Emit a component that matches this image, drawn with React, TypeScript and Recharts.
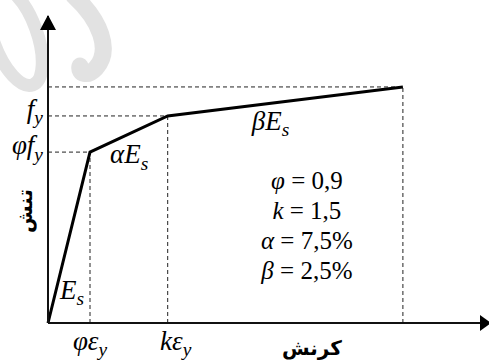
import React from "react";
import { LineChart, Line, XAxis, YAxis, ReferenceLine, ReferenceDot } from "recharts";

// stress–strain polyline, read off the (schematic, not-to-scale) drawing
const strain = [0, 1.0, 2.85, 8.45];
const stress = [0, 5.01, 6.07, 6.92];

// tick labels (main part + subscript)
const strainTicks = ["φε", "kε"];
const stressTicks = ["φf", "f"];
const tickSub = "y";

// slope labels of the three branches
const slopeLabels = ["E", "αE", "βE"];
const slopeSub = "s";

// parameter block
const paramNames = ["φ", "k", "α", "β"];
const paramValues = ["0,9", "1,5", "7,5%", "2,5%"];

const X_MAX = 10.5;
const Y_MAX = 9;

const MATH = "'Liberation Serif', 'DejaVu Serif', serif";
const FA = "'DejaVu Sans', sans-serif";

const data = strain.map((s, i) => ({ strain: s, stress: stress[i] }));

function SubText({ x, y, main, sub, size = 27, anchor = "start" }: any) {
  return (
    <text x={x} y={y} textAnchor={anchor} fontFamily={MATH} fontStyle="italic" fontSize={size} fill="#000">
      {main}
      <tspan dy={size * 0.24} fontSize={size * 0.72}>
        {sub}
      </tspan>
    </text>
  );
}

function StrainTick({ x, y, payload }: any) {
  const i = strain.indexOf(payload.value) - 1;
  const dx = [0, 8][i] ?? 0;
  return <SubText x={x + dx} y={y + 27} main={strainTicks[i]} sub={tickSub} anchor="middle" />;
}

function StressTick({ x, y, payload }: any) {
  const i = stress.indexOf(payload.value) - 1;
  return <SubText x={x - 5} y={y + 2} main={stressTicks[i]} sub={tickSub} anchor="end" />;
}

// offsets of slope labels from the start of each branch
const slopeOffsets = [
  [12, -24],
  [20, 11],
  [84, 14],
];

function ParamBlock({ cx, cy }: any) {
  return (
    <g>
      {paramNames.map((n, i) => (
        <text
          key={n}
          x={cx - 96}
          y={cy - 134 + i * 30}
          textAnchor="middle"
          fontFamily={MATH}
          fontSize={25}
          fill="#000"
          style={{ whiteSpace: "pre" }}
        >
          <tspan fontStyle="italic">{n}</tspan>
          <tspan>{" = " + paramValues[i]}</tspan>
        </text>
      ))}
    </g>
  );
}

function Watermark() {
  return (
    <svg width={489} height={361} style={{ position: "absolute", left: 0, top: 0 }}>
      <ellipse cx={15} cy={36} rx={22} ry={52} transform="rotate(-20 15 36)" fill="none" stroke="#e2e2e2" strokeWidth={13} />
      <path
        d="M 74 -4 C 100 20, 112 50, 96 68 C 88 77, 78 74, 80 66"
        fill="none"
        stroke="#e2e2e2"
        strokeWidth={17}
        strokeLinecap="round"
      />
    </svg>
  );
}

export default function App() {
  const guides = [1, 2, 3];
  return (
    <div style={{ position: "absolute", left: 0, top: 0, width: 489, height: 361, background: "#fff" }}>
      <Watermark />
      <div style={{ position: "absolute", left: 0, top: 0 }}>
        <LineChart width={489} height={361} data={data} margin={{ top: 16, right: 0, bottom: 0, left: 0 }}>
          <XAxis
            type="number"
            dataKey="strain"
            domain={[0, X_MAX]}
            ticks={[strain[1], strain[2]]}
            tickLine={false}
            tickSize={0}
            tickMargin={0}
            height={38}
            axisLine={{ stroke: "#111", strokeWidth: 2 }}
            tick={<StrainTick />}
            label={(p: any) => (
              <text
                x={p.viewBox.x + 264}
                y={p.viewBox.y + 32}
                textAnchor="middle"
                fontFamily={FA}
                fontWeight="bold"
                fontSize={20}
                fill="#000"
              >
                کرنش
              </text>
            )}
          />
          <YAxis
            type="number"
            domain={[0, Y_MAX]}
            ticks={[stress[1], stress[2]]}
            tickLine={false}
            tickSize={0}
            tickMargin={0}
            width={48}
            axisLine={{ stroke: "#111", strokeWidth: 2 }}
            tick={<StressTick />}
            label={() => (
              <text
                x={25}
                y={211}
                transform="rotate(-90 25 211)"
                textAnchor="middle"
                dominantBaseline="central"
                fontFamily={FA}
                fontWeight="bold"
                fontSize={20}
                fill="#000"
              >
                تنش
              </text>
            )}
          />
          {guides.map((i) => (
            <ReferenceLine
              key={"h" + i}
              segment={[
                { x: 0, y: stress[i] },
                { x: strain[i], y: stress[i] },
              ]}
              stroke="#222"
              strokeWidth={1}
              strokeDasharray="4 3"
            />
          ))}
          {guides.map((i) => (
            <ReferenceLine
              key={"v" + i}
              segment={[
                { x: strain[i], y: 0 },
                { x: strain[i], y: stress[i] },
              ]}
              stroke="#222"
              strokeWidth={1}
              strokeDasharray="4 3"
            />
          ))}
          <Line
            dataKey="stress"
            type="linear"
            stroke="#000"
            strokeWidth={3}
            dot={false}
            activeDot={false}
            isAnimationActive={false}
          />
          {slopeLabels.map((lab, i) => (
            <ReferenceDot
              key={lab}
              x={strain[i]}
              y={stress[i]}
              ifOverflow="visible"
              shape={(p: any) => (
                <SubText x={p.cx + slopeOffsets[i][0]} y={p.cy + slopeOffsets[i][1]} main={lab} sub={slopeSub} />
              )}
            />
          ))}
          <ReferenceDot x={strain[3]} y={0} ifOverflow="visible" shape={(p: any) => <ParamBlock cx={p.cx} cy={p.cy} />} />
          <ReferenceDot
            x={X_MAX}
            y={0}
            ifOverflow="visible"
            shape={(p: any) => (
              <polygon points={`${p.cx + 2},${p.cy} ${p.cx - 9},${p.cy - 8} ${p.cx - 9},${p.cy + 8}`} fill="#000" />
            )}
          />
          <ReferenceDot
            x={0}
            y={Y_MAX}
            ifOverflow="visible"
            shape={(p: any) => (
              <polygon points={`${p.cx},${p.cy - 1} ${p.cx - 8},${p.cy + 14} ${p.cx + 8},${p.cy + 14}`} fill="#000" />
            )}
          />
        </LineChart>
      </div>
    </div>
  );
}
